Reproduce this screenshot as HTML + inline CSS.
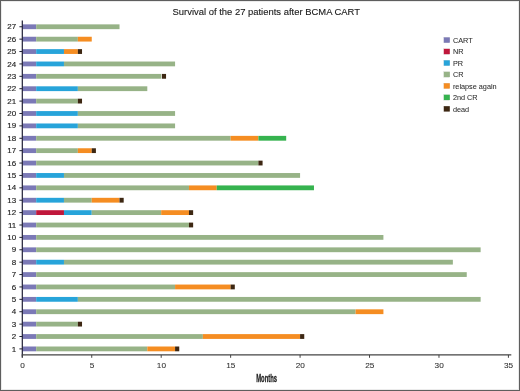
<!DOCTYPE html>
<html><head><meta charset="utf-8"><style>
html,body{margin:0;padding:0;background:#fff;}
body{width:520px;height:391px;overflow:hidden;position:relative;}
.frame{position:absolute;left:0;top:0;width:518px;height:389px;border:1px solid #5e5e5e;box-shadow:inset -1px -1px 0 #ebebeb, inset 1px 1px 0 #ebebeb;}
svg{position:absolute;left:0;top:0;will-change:transform;}
text{font-family:"Liberation Sans",sans-serif;}
</style></head><body>
<div class="frame"></div>
<svg width="520" height="391" viewBox="0 0 520 391">
<text transform="translate(172.5 15.0) scale(1 1.05)" font-size="9.45" fill="#1a1a1a" stroke="#1a1a1a" stroke-width="0.12">Survival of the 27 patients after BCMA CART</text>
<rect x="22.30" y="24.36" width="13.89" height="4.8" fill="#7b79b6"/><rect x="36.19" y="24.36" width="83.33" height="4.8" fill="#97b387"/><rect x="22.30" y="36.75" width="13.89" height="4.8" fill="#7b79b6"/><rect x="36.19" y="36.75" width="41.67" height="4.8" fill="#97b387"/><rect x="77.86" y="36.75" width="13.89" height="4.8" fill="#f58d22"/><rect x="22.30" y="49.14" width="13.89" height="4.8" fill="#7b79b6"/><rect x="36.19" y="49.14" width="27.78" height="4.8" fill="#27a4da"/><rect x="63.97" y="49.14" width="13.89" height="4.8" fill="#f58d22"/><rect x="77.86" y="49.14" width="4.17" height="4.8" fill="#3d2712"/><rect x="22.30" y="61.53" width="13.89" height="4.8" fill="#7b79b6"/><rect x="36.19" y="61.53" width="27.78" height="4.8" fill="#27a4da"/><rect x="63.97" y="61.53" width="111.11" height="4.8" fill="#97b387"/><rect x="22.30" y="73.92" width="13.89" height="4.8" fill="#7b79b6"/><rect x="36.19" y="73.92" width="125.00" height="4.8" fill="#97b387"/><rect x="161.88" y="73.92" width="4.17" height="4.8" fill="#3d2712"/><rect x="22.30" y="86.31" width="13.89" height="4.8" fill="#7b79b6"/><rect x="36.19" y="86.31" width="41.67" height="4.8" fill="#27a4da"/><rect x="77.86" y="86.31" width="69.44" height="4.8" fill="#97b387"/><rect x="22.30" y="98.70" width="13.89" height="4.8" fill="#7b79b6"/><rect x="36.19" y="98.70" width="41.67" height="4.8" fill="#97b387"/><rect x="77.86" y="98.70" width="4.17" height="4.8" fill="#3d2712"/><rect x="22.30" y="111.09" width="13.89" height="4.8" fill="#7b79b6"/><rect x="36.19" y="111.09" width="41.67" height="4.8" fill="#27a4da"/><rect x="77.86" y="111.09" width="97.22" height="4.8" fill="#97b387"/><rect x="22.30" y="123.48" width="13.89" height="4.8" fill="#7b79b6"/><rect x="36.19" y="123.48" width="41.67" height="4.8" fill="#27a4da"/><rect x="77.86" y="123.48" width="97.22" height="4.8" fill="#97b387"/><rect x="22.30" y="135.87" width="13.89" height="4.8" fill="#7b79b6"/><rect x="36.19" y="135.87" width="194.45" height="4.8" fill="#97b387"/><rect x="230.63" y="135.87" width="27.78" height="4.8" fill="#f58d22"/><rect x="258.41" y="135.87" width="27.78" height="4.8" fill="#36b34f"/><rect x="22.30" y="148.26" width="13.89" height="4.8" fill="#7b79b6"/><rect x="36.19" y="148.26" width="41.67" height="4.8" fill="#97b387"/><rect x="77.86" y="148.26" width="13.89" height="4.8" fill="#f58d22"/><rect x="91.74" y="148.26" width="4.17" height="4.8" fill="#3d2712"/><rect x="22.30" y="160.65" width="13.89" height="4.8" fill="#7b79b6"/><rect x="36.19" y="160.65" width="222.22" height="4.8" fill="#97b387"/><rect x="258.41" y="160.65" width="4.17" height="4.8" fill="#3d2712"/><rect x="22.30" y="173.04" width="13.89" height="4.8" fill="#7b79b6"/><rect x="36.19" y="173.04" width="27.78" height="4.8" fill="#27a4da"/><rect x="63.97" y="173.04" width="236.11" height="4.8" fill="#97b387"/><rect x="22.30" y="185.43" width="13.89" height="4.8" fill="#7b79b6"/><rect x="36.19" y="185.43" width="152.78" height="4.8" fill="#97b387"/><rect x="188.97" y="185.43" width="27.78" height="4.8" fill="#f58d22"/><rect x="216.75" y="185.43" width="97.22" height="4.8" fill="#36b34f"/><rect x="22.30" y="197.82" width="13.89" height="4.8" fill="#7b79b6"/><rect x="36.19" y="197.82" width="27.78" height="4.8" fill="#27a4da"/><rect x="63.97" y="197.82" width="27.78" height="4.8" fill="#97b387"/><rect x="91.74" y="197.82" width="27.78" height="4.8" fill="#f58d22"/><rect x="119.52" y="197.82" width="4.17" height="4.8" fill="#3d2712"/><rect x="22.30" y="210.21" width="13.89" height="4.8" fill="#7b79b6"/><rect x="36.19" y="210.21" width="27.78" height="4.8" fill="#c0173b"/><rect x="63.97" y="210.21" width="27.78" height="4.8" fill="#27a4da"/><rect x="91.74" y="210.21" width="69.45" height="4.8" fill="#97b387"/><rect x="161.19" y="210.21" width="27.78" height="4.8" fill="#f58d22"/><rect x="188.97" y="210.21" width="4.17" height="4.8" fill="#3d2712"/><rect x="22.30" y="222.60" width="13.89" height="4.8" fill="#7b79b6"/><rect x="36.19" y="222.60" width="152.78" height="4.8" fill="#97b387"/><rect x="188.97" y="222.60" width="4.17" height="4.8" fill="#3d2712"/><rect x="22.30" y="234.99" width="13.89" height="4.8" fill="#7b79b6"/><rect x="36.19" y="234.99" width="347.22" height="4.8" fill="#97b387"/><rect x="22.30" y="247.38" width="13.89" height="4.8" fill="#7b79b6"/><rect x="36.19" y="247.38" width="444.45" height="4.8" fill="#97b387"/><rect x="22.30" y="259.77" width="13.89" height="4.8" fill="#7b79b6"/><rect x="36.19" y="259.77" width="27.78" height="4.8" fill="#27a4da"/><rect x="63.97" y="259.77" width="388.89" height="4.8" fill="#97b387"/><rect x="22.30" y="272.16" width="13.89" height="4.8" fill="#7b79b6"/><rect x="36.19" y="272.16" width="430.56" height="4.8" fill="#97b387"/><rect x="22.30" y="284.55" width="13.89" height="4.8" fill="#7b79b6"/><rect x="36.19" y="284.55" width="138.89" height="4.8" fill="#97b387"/><rect x="175.08" y="284.55" width="55.56" height="4.8" fill="#f58d22"/><rect x="230.63" y="284.55" width="4.17" height="4.8" fill="#3d2712"/><rect x="22.30" y="296.94" width="13.89" height="4.8" fill="#7b79b6"/><rect x="36.19" y="296.94" width="41.67" height="4.8" fill="#27a4da"/><rect x="77.86" y="296.94" width="402.78" height="4.8" fill="#97b387"/><rect x="22.30" y="309.33" width="13.89" height="4.8" fill="#7b79b6"/><rect x="36.19" y="309.33" width="319.45" height="4.8" fill="#97b387"/><rect x="355.64" y="309.33" width="27.78" height="4.8" fill="#f58d22"/><rect x="22.30" y="321.72" width="13.89" height="4.8" fill="#7b79b6"/><rect x="36.19" y="321.72" width="41.67" height="4.8" fill="#97b387"/><rect x="77.86" y="321.72" width="4.17" height="4.8" fill="#3d2712"/><rect x="22.30" y="334.11" width="13.89" height="4.8" fill="#7b79b6"/><rect x="36.19" y="334.11" width="166.67" height="4.8" fill="#97b387"/><rect x="202.86" y="334.11" width="97.22" height="4.8" fill="#f58d22"/><rect x="300.08" y="334.11" width="4.17" height="4.8" fill="#3d2712"/><rect x="22.30" y="346.50" width="13.89" height="4.8" fill="#7b79b6"/><rect x="36.19" y="346.50" width="111.11" height="4.8" fill="#97b387"/><rect x="147.30" y="346.50" width="27.78" height="4.8" fill="#f58d22"/><rect x="175.08" y="346.50" width="4.17" height="4.8" fill="#3d2712"/><line x1="22.30" y1="20.5" x2="22.30" y2="357.6" stroke="#1f1f35" stroke-width="1.2"/><line x1="21.70" y1="354.9" x2="511.3" y2="354.9" stroke="#444" stroke-width="1.3"/><line x1="19.4" y1="348.90" x2="22.30" y2="348.90" stroke="#1f1f35" stroke-width="1"/><line x1="19.4" y1="336.51" x2="22.30" y2="336.51" stroke="#1f1f35" stroke-width="1"/><line x1="19.4" y1="324.12" x2="22.30" y2="324.12" stroke="#1f1f35" stroke-width="1"/><line x1="19.4" y1="311.73" x2="22.30" y2="311.73" stroke="#1f1f35" stroke-width="1"/><line x1="19.4" y1="299.34" x2="22.30" y2="299.34" stroke="#1f1f35" stroke-width="1"/><line x1="19.4" y1="286.95" x2="22.30" y2="286.95" stroke="#1f1f35" stroke-width="1"/><line x1="19.4" y1="274.56" x2="22.30" y2="274.56" stroke="#1f1f35" stroke-width="1"/><line x1="19.4" y1="262.17" x2="22.30" y2="262.17" stroke="#1f1f35" stroke-width="1"/><line x1="19.4" y1="249.78" x2="22.30" y2="249.78" stroke="#1f1f35" stroke-width="1"/><line x1="19.4" y1="237.39" x2="22.30" y2="237.39" stroke="#1f1f35" stroke-width="1"/><line x1="19.4" y1="225.00" x2="22.30" y2="225.00" stroke="#1f1f35" stroke-width="1"/><line x1="19.4" y1="212.61" x2="22.30" y2="212.61" stroke="#1f1f35" stroke-width="1"/><line x1="19.4" y1="200.22" x2="22.30" y2="200.22" stroke="#1f1f35" stroke-width="1"/><line x1="19.4" y1="187.83" x2="22.30" y2="187.83" stroke="#1f1f35" stroke-width="1"/><line x1="19.4" y1="175.44" x2="22.30" y2="175.44" stroke="#1f1f35" stroke-width="1"/><line x1="19.4" y1="163.05" x2="22.30" y2="163.05" stroke="#1f1f35" stroke-width="1"/><line x1="19.4" y1="150.66" x2="22.30" y2="150.66" stroke="#1f1f35" stroke-width="1"/><line x1="19.4" y1="138.27" x2="22.30" y2="138.27" stroke="#1f1f35" stroke-width="1"/><line x1="19.4" y1="125.88" x2="22.30" y2="125.88" stroke="#1f1f35" stroke-width="1"/><line x1="19.4" y1="113.49" x2="22.30" y2="113.49" stroke="#1f1f35" stroke-width="1"/><line x1="19.4" y1="101.10" x2="22.30" y2="101.10" stroke="#1f1f35" stroke-width="1"/><line x1="19.4" y1="88.71" x2="22.30" y2="88.71" stroke="#1f1f35" stroke-width="1"/><line x1="19.4" y1="76.32" x2="22.30" y2="76.32" stroke="#1f1f35" stroke-width="1"/><line x1="19.4" y1="63.93" x2="22.30" y2="63.93" stroke="#1f1f35" stroke-width="1"/><line x1="19.4" y1="51.54" x2="22.30" y2="51.54" stroke="#1f1f35" stroke-width="1"/><line x1="19.4" y1="39.15" x2="22.30" y2="39.15" stroke="#1f1f35" stroke-width="1"/><line x1="19.4" y1="26.76" x2="22.30" y2="26.76" stroke="#1f1f35" stroke-width="1"/><line x1="22.30" y1="354.9" x2="22.30" y2="357.8" stroke="#444" stroke-width="1"/><line x1="91.74" y1="354.9" x2="91.74" y2="357.8" stroke="#444" stroke-width="1"/><line x1="161.19" y1="354.9" x2="161.19" y2="357.8" stroke="#444" stroke-width="1"/><line x1="230.63" y1="354.9" x2="230.63" y2="357.8" stroke="#444" stroke-width="1"/><line x1="300.08" y1="354.9" x2="300.08" y2="357.8" stroke="#444" stroke-width="1"/><line x1="369.52" y1="354.9" x2="369.52" y2="357.8" stroke="#444" stroke-width="1"/><line x1="438.97" y1="354.9" x2="438.97" y2="357.8" stroke="#444" stroke-width="1"/><line x1="508.41" y1="354.9" x2="508.41" y2="357.8" stroke="#444" stroke-width="1"/>
<g font-size="8" fill="#222" stroke="#222" stroke-width="0.15"><text transform="translate(16.2 351.50) scale(1 1)" text-anchor="end">1</text><text transform="translate(16.2 339.11) scale(1 1)" text-anchor="end">2</text><text transform="translate(16.2 326.72) scale(1 1)" text-anchor="end">3</text><text transform="translate(16.2 314.33) scale(1 1)" text-anchor="end">4</text><text transform="translate(16.2 301.94) scale(1 1)" text-anchor="end">5</text><text transform="translate(16.2 289.55) scale(1 1)" text-anchor="end">6</text><text transform="translate(16.2 277.16) scale(1 1)" text-anchor="end">7</text><text transform="translate(16.2 264.77) scale(1 1)" text-anchor="end">8</text><text transform="translate(16.2 252.38) scale(1 1)" text-anchor="end">9</text><text transform="translate(16.2 239.99) scale(1 1)" text-anchor="end">10</text><text transform="translate(16.2 227.60) scale(1 1)" text-anchor="end">11</text><text transform="translate(16.2 215.21) scale(1 1)" text-anchor="end">12</text><text transform="translate(16.2 202.82) scale(1 1)" text-anchor="end">13</text><text transform="translate(16.2 190.43) scale(1 1)" text-anchor="end">14</text><text transform="translate(16.2 178.04) scale(1 1)" text-anchor="end">15</text><text transform="translate(16.2 165.65) scale(1 1)" text-anchor="end">16</text><text transform="translate(16.2 153.26) scale(1 1)" text-anchor="end">17</text><text transform="translate(16.2 140.87) scale(1 1)" text-anchor="end">18</text><text transform="translate(16.2 128.48) scale(1 1)" text-anchor="end">19</text><text transform="translate(16.2 116.09) scale(1 1)" text-anchor="end">20</text><text transform="translate(16.2 103.70) scale(1 1)" text-anchor="end">21</text><text transform="translate(16.2 91.31) scale(1 1)" text-anchor="end">22</text><text transform="translate(16.2 78.92) scale(1 1)" text-anchor="end">23</text><text transform="translate(16.2 66.53) scale(1 1)" text-anchor="end">24</text><text transform="translate(16.2 54.14) scale(1 1)" text-anchor="end">25</text><text transform="translate(16.2 41.75) scale(1 1)" text-anchor="end">26</text><text transform="translate(16.2 29.36) scale(1 1)" text-anchor="end">27</text></g>
<g font-size="8" fill="#333" stroke="#333" stroke-width="0.08"><text transform="translate(22.50 367.8) scale(1.03 1)" text-anchor="middle">0</text><text transform="translate(91.94 367.8) scale(1.03 1)" text-anchor="middle">5</text><text transform="translate(161.39 367.8) scale(1.03 1)" text-anchor="middle">10</text><text transform="translate(230.83 367.8) scale(1.03 1)" text-anchor="middle">15</text><text transform="translate(300.28 367.8) scale(1.03 1)" text-anchor="middle">20</text><text transform="translate(369.72 367.8) scale(1.03 1)" text-anchor="middle">25</text><text transform="translate(439.17 367.8) scale(1.03 1)" text-anchor="middle">30</text><text transform="translate(508.61 367.8) scale(1.03 1)" text-anchor="middle">35</text></g>
<g font-size="7.3" fill="#2a2a2a" stroke="#2a2a2a" stroke-width="0.05"><rect x="443.8" y="37.35" width="6.0" height="5.4" fill="#7b79b6"/><text transform="translate(452.9 42.80) scale(1 1.05)">CART</text><rect x="443.8" y="48.82" width="6.0" height="5.4" fill="#c0173b"/><text transform="translate(452.9 54.27) scale(1 1.05)">NR</text><rect x="443.8" y="60.29" width="6.0" height="5.4" fill="#27a4da"/><text transform="translate(452.9 65.74) scale(1 1.05)">PR</text><rect x="443.8" y="71.76" width="6.0" height="5.4" fill="#97b387"/><text transform="translate(452.9 77.21) scale(1 1.05)">CR</text><rect x="443.8" y="83.23" width="6.0" height="5.4" fill="#f58d22"/><text transform="translate(452.9 88.68) scale(1 1.05)">relapse again</text><rect x="443.8" y="94.70" width="6.0" height="5.4" fill="#36b34f"/><text transform="translate(452.9 100.15) scale(1 1.05)">2nd CR</text><rect x="443.8" y="106.17" width="6.0" height="5.4" fill="#3d2712"/><text transform="translate(452.9 111.62) scale(1 1.05)">dead</text></g>
<text font-size="9.1" font-weight="bold" fill="#222" stroke="#222" stroke-width="0.25" text-anchor="middle" transform="translate(266.65 381.9) scale(0.645 1.13)">Months</text>
</svg>
</body></html>
